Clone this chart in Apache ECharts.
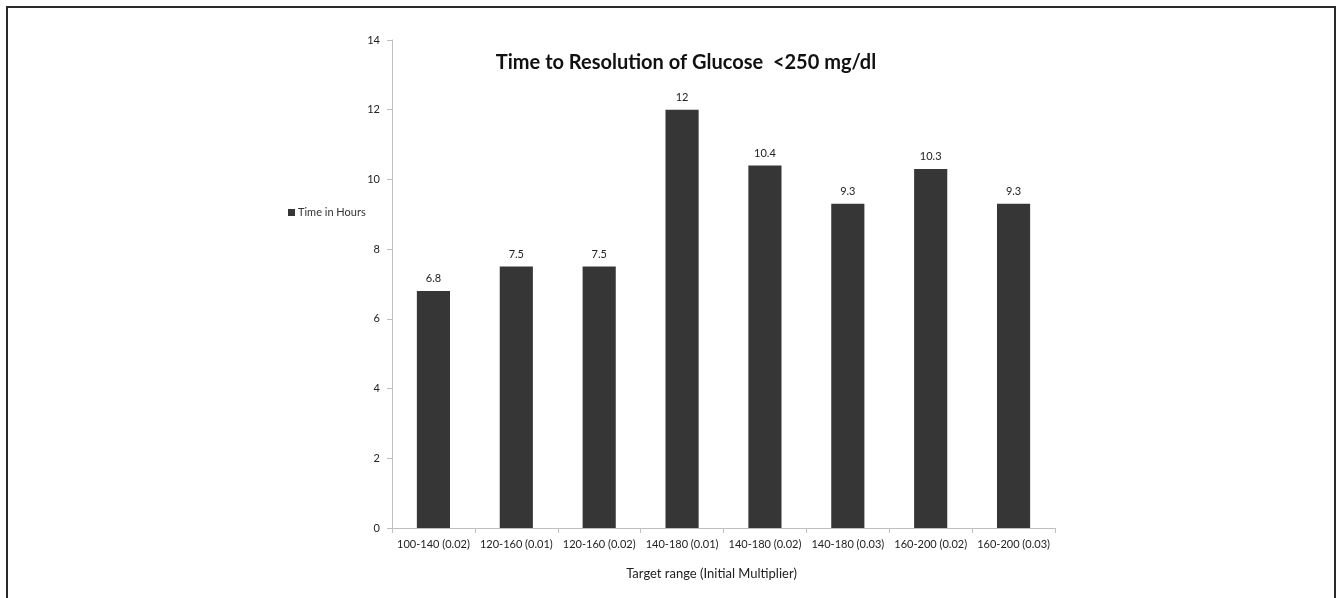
<!DOCTYPE html>
<html>
<head>
<meta charset="utf-8">
<script src="https://cdn.jsdelivr.net/npm/echarts@6/dist/echarts.min.js"></script>
<style>
  html, body { margin: 0; padding: 0; background: #fff; }
  #chart { width: 1340px; height: 598px; }
</style>
</head>
<body>
<div id="chart"></div>
<script>
const categories = [
  '100-140 (0.02)', '120-160 (0.01)', '120-160 (0.02)', '140-180 (0.01)',
  '140-180 (0.02)', '140-180 (0.03)', '160-200 (0.02)', '160-200 (0.03)'
];
const timeInHours = [6.8, 7.5, 7.5, 12, 10.4, 9.3, 10.3, 9.3];
const yTicks = [0, 2, 4, 6, 8, 10, 12, 14];

const font = 'Lato, "Open Sans", sans-serif';
const chart = echarts.init(document.getElementById('chart'));

chart.setOption({
  backgroundColor: '#fff',
  animation: false,
  title: {
    text: 'Time to Resolution of Glucose  <250 mg/dl',
    left: 681,
    top: 48,
    textAlign: 'center',
    textStyle: { fontFamily: font, fontSize: 20, fontWeight: 'bold', color: '#111' }
  },
  legend: {
    left: 283,
    top: 202,
    icon: 'rect',
    itemWidth: 7,
    itemHeight: 7,
    itemGap: 4,
    textStyle: { fontFamily: font, fontSize: 11, color: '#333', padding: [0, 0, 0, -2] },
    data: ['Time in Hours']
  },
  grid: { left: 392, right: 285, top: 40, bottom: 70 },
  xAxis: {
    type: 'category',
    data: categories,
    name: 'Target range (Initial Multiplier)',
    nameLocation: 'middle',
    nameGap: 39,
    nameTextStyle: { fontFamily: font, fontSize: 13, color: '#222', padding: [0, 24, 0, 0] },
    axisLine: { lineStyle: { color: '#bfbfbf' } },
    axisTick: { show: true, length: 5, lineStyle: { color: '#bfbfbf' } },
    axisLabel: { fontFamily: font, fontSize: 11, color: '#222', margin: 11, interval: 0 }
  },
  yAxis: {
    type: 'value',
    min: 0,
    max: yTicks[yTicks.length - 1],
    interval: 2,
    splitLine: { show: false },
    axisLine: { show: true, lineStyle: { color: '#bfbfbf' } },
    axisTick: { show: true, length: 5, lineStyle: { color: '#bfbfbf' } },
    axisLabel: { fontFamily: font, fontSize: 11, color: '#222', margin: 12 }
  },
  series: [{
    name: 'Time in Hours',
    type: 'bar',
    data: timeInHours,
    barWidth: '40%',
    itemStyle: { color: '#363636' },
    label: {
      show: true,
      position: 'top',
      distance: 7,
      fontFamily: font,
      fontSize: 11,
      color: '#222'
    }
  }],
  graphic: [{
    type: 'rect',
    shape: { x: 7, y: 7, width: 1328, height: 620 },
    style: { fill: 'none', stroke: '#2a2a2a', lineWidth: 2 },
    silent: true
  }]
});
</script>
</body>
</html>
